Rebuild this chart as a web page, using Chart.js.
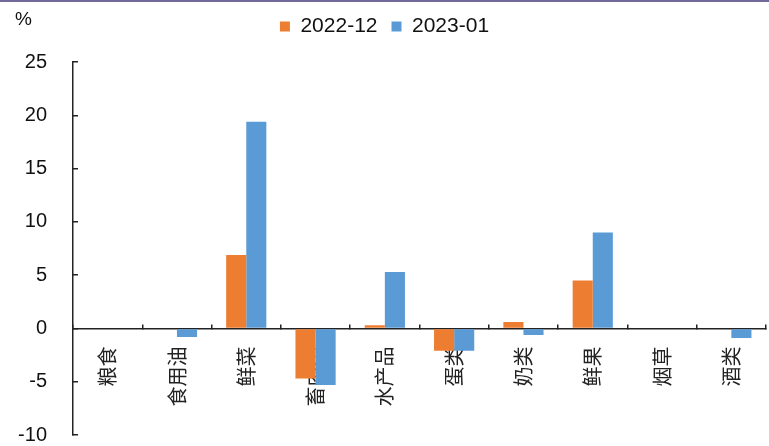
<!DOCTYPE html>
<html>
<head>
<meta charset="utf-8">
<script src="https://cdn.jsdelivr.net/npm/chart.js@4/dist/chart.umd.min.js"></script>
<style>
    html, body { margin: 0; padding: 0; background: #fff; }
    #wrap { position: relative; width: 769px; height: 446px; }
    #topBar { position: absolute; left: 0; top: 0; width: 769px; height: 2px; background: #6f6a99; }
    #unit { position: absolute; left: 15px; top: 8px; font: 19px "Liberation Sans", Arial, sans-serif; color: #111; }
</style>
</head>
<body>
<div id="wrap">
    <canvas id="chart" width="769" height="446"></canvas>
    <div id="topBar"></div>
    <span id="unit">%</span>
</div>
<script>
const categories = ['粮食', '食用油', '鲜菜', '畜肉类', '水产品', '蛋类', '奶类', '鲜果', '烟草', '酒类'];
const seriesNames = ['2022-12', '2023-01'];
const dec2022 = [0, 0, 6.9, -4.7, 0.3, -2.1, 0.6, 4.5, 0, 0];
const jan2023 = [0, -0.8, 19.4, -5.3, 5.3, -2.1, -0.6, 9.0, 0, -0.9];
const yTicks = { min: -10, max: 25, step: 5 };

const ctx = document.getElementById('chart').getContext('2d');
const chart = new Chart(ctx, {
    type: 'bar',
    data: {
        labels: categories,
        datasets: [
            { label: seriesNames[0], data: dec2022, backgroundColor: '#ed7d31' },
            { label: seriesNames[1], data: jan2023, backgroundColor: '#5b9bd5' }
        ]
    },
    options: {
        responsive: false,
        animation: false,
        layout: { padding: { top: 2, right: 0, bottom: 0, left: 0 } },
        datasets: { bar: { barPercentage: 1, categoryPercentage: 0.58 } },
        plugins: {
            legend: {
                position: 'top',
                labels: {
                    boxWidth: 10,
                    boxHeight: 10,
                    padding: 14,
                    color: '#111',
                    font: { family: '"Liberation Sans", Arial, sans-serif', size: 21 }
                }
            },
            // empty subtitle used as a gap between legend and plot
            subtitle: {
                display: true,
                text: '',
                weight: 0,
                font: { size: 1 },
                padding: { top: 14, bottom: 0 }
            },
            tooltip: { enabled: false }
        },
        scales: {
            x: {
                position: { y: 0 },
                afterFit: (scale) => {
                    // the axis sits at zero, so it should not eat layout space
                    scale.height = 0;
                    scale.paddingLeft = 0;
                    scale.paddingRight = 3;
                },
                grid: { drawOnChartArea: false, color: '#222', tickLength: -5, lineWidth: 1.5 },
                border: { color: '#222', width: 1.5 },
                ticks: {
                    minRotation: 90,
                    maxRotation: 90,
                    padding: 23,
                    color: '#222',
                    font: { family: '"Noto Sans CJK SC", sans-serif', size: 20 }
                }
            },
            y: {
                min: yTicks.min,
                max: yTicks.max,
                afterFit: (scale) => {
                    scale.width = 73;
                    scale.paddingTop = 0;
                    scale.paddingBottom = 11;
                },
                grid: { drawOnChartArea: false, color: '#222', tickLength: -5, lineWidth: 1.5 },
                border: { color: '#222', width: 1.5 },
                ticks: {
                    stepSize: yTicks.step,
                    padding: 31,
                    color: '#111',
                    font: { family: '"Liberation Sans", Arial, sans-serif', size: 20 }
                }
            }
        }
    }
});
</script>
</body>
</html>
